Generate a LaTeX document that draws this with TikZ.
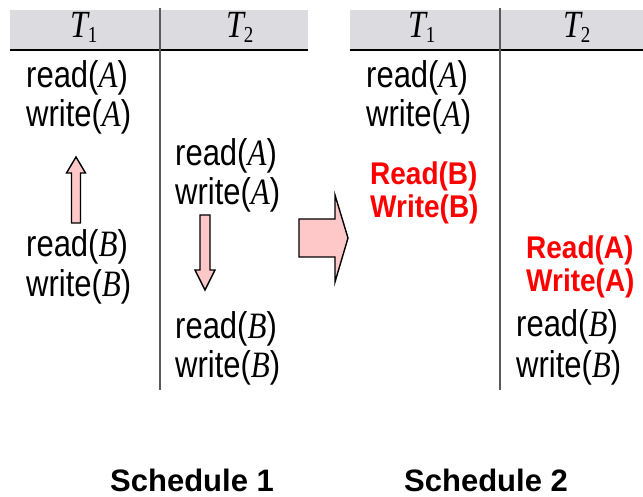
\documentclass[tikz,border=0pt]{standalone}
\usepackage{fontspec}
\usepackage{graphicx}
\setmainfont{Liberation Serif}
\setsansfont{Liberation Sans}
\newcommand{\ital}[1]{{\rmfamily\itshape #1}}
% operation text such as read(A), slightly tall glyphs
\newcommand{\opn}[2]{\scalebox{1}[1.2]{{\sffamily #1(}\ital{#2}{\sffamily)}}}
\newcommand{\redtxt}[1]{\scalebox{1}[1.12]{#1}}
\newcommand{\tlab}[1]{\scalebox{1}[1.2]{\ital{T}\kern-0.5pt\raisebox{-4pt}{\fontsize{19}{19}\selectfont\rmfamily #1}}}
\definecolor{hdrgray}{RGB}{220,220,224}
\definecolor{arrowpink}{RGB}{255,200,200}
\definecolor{linegray}{RGB}{90,90,90}
\tikzset{
  optext/.style={anchor=base west, inner sep=0pt, font=\fontsize{31}{31}\selectfont},
  redop/.style={anchor=base west, inner sep=0pt, text=red, font=\fontsize{28}{28}\selectfont\sffamily\bfseries},
  hdrtext/.style={anchor=base, inner sep=0pt, font=\fontsize{32}{32}\selectfont},
  caption/.style={anchor=base, inner sep=0pt, font=\fontsize{31}{31}\selectfont\sffamily\bfseries},
  blockarrow/.style={draw=black, line width=1.4pt, fill=arrowpink, line join=miter},
  colrule/.style={draw=linegray, line width=1.5pt},
  hdrrule/.style={draw=black, line width=2pt}
}
\begin{document}
\begin{tikzpicture}[x=1pt,y=-1pt]
\useasboundingbox (0,0) rectangle (643,497);

% ---- Schedule 1 table ----
\fill[hdrgray] (10,10) rectangle (308,50);
\draw[hdrrule] (10,50) -- (308,50);
\draw[colrule] (160,8) -- (160,390);
\node[hdrtext] (s1t1) at (84,38) {\tlab{1}};
\node[hdrtext] (s1t2) at (240,38) {\tlab{2}};

\node[optext] (s1ra) at (26,88)  {\opn{read}{A}};
\node[optext] (s1wa) at (26,127) {\opn{write}{A}};
\node[optext] (s1rb) at (26,257) {\opn{read}{B}};
\node[optext] (s1wb) at (26,297) {\opn{write}{B}};
\node[optext] (s2ra1) at (175,166) {\opn{read}{A}};
\node[optext] (s2wa1) at (175,205) {\opn{write}{A}};
\node[optext] (s2rb1) at (175,338) {\opn{read}{B}};
\node[optext] (s2wb1) at (175,377) {\opn{write}{B}};

% block arrows
\draw[blockarrow] (71.5,223) -- (71.5,173) -- (66.5,173) -- (76,157) -- (85.5,173) -- (80.5,173) -- (80.5,223) -- cycle;
\draw[blockarrow] (200,215) -- (200,270) -- (195,270) -- (205,290) -- (215,270) -- (210,270) -- (210,215) -- cycle;
\draw[blockarrow] (299,219) -- (335,219) -- (335,195) -- (348,238) -- (335,282) -- (335,257) -- (299,257) -- cycle;

% ---- Schedule 2 table ----
\fill[hdrgray] (350,10) rectangle (643,50);
\draw[hdrrule] (350,50) -- (643,50);
\draw[colrule] (500,8) -- (500,390);
\node[hdrtext] (s2t1) at (422,38) {\tlab{1}};
\node[hdrtext] (s2t2) at (577,38) {\tlab{2}};

\node[optext] (r1ra) at (366,88)  {\opn{read}{A}};
\node[optext] (r1wa) at (366,127) {\opn{write}{A}};
\node[redop] (r1rb) at (370,185) {\redtxt{Read(B)}};
\node[redop] (r1wb) at (370,218) {\redtxt{Write(B)}};
\node[redop] (r2ra) at (526,259) {\redtxt{Read(A)}};
\node[redop] (r2wa) at (526,291) {\redtxt{Write(A)}};
\node[optext] (r2rb) at (516,337) {\opn{read}{B}};
\node[optext] (r2wb) at (516,377) {\opn{write}{B}};

% captions
\node[caption] (cap1) at (192,491) {Schedule 1};
\node[caption] (cap2) at (486,491) {Schedule 2};
\end{tikzpicture}
\end{document}
